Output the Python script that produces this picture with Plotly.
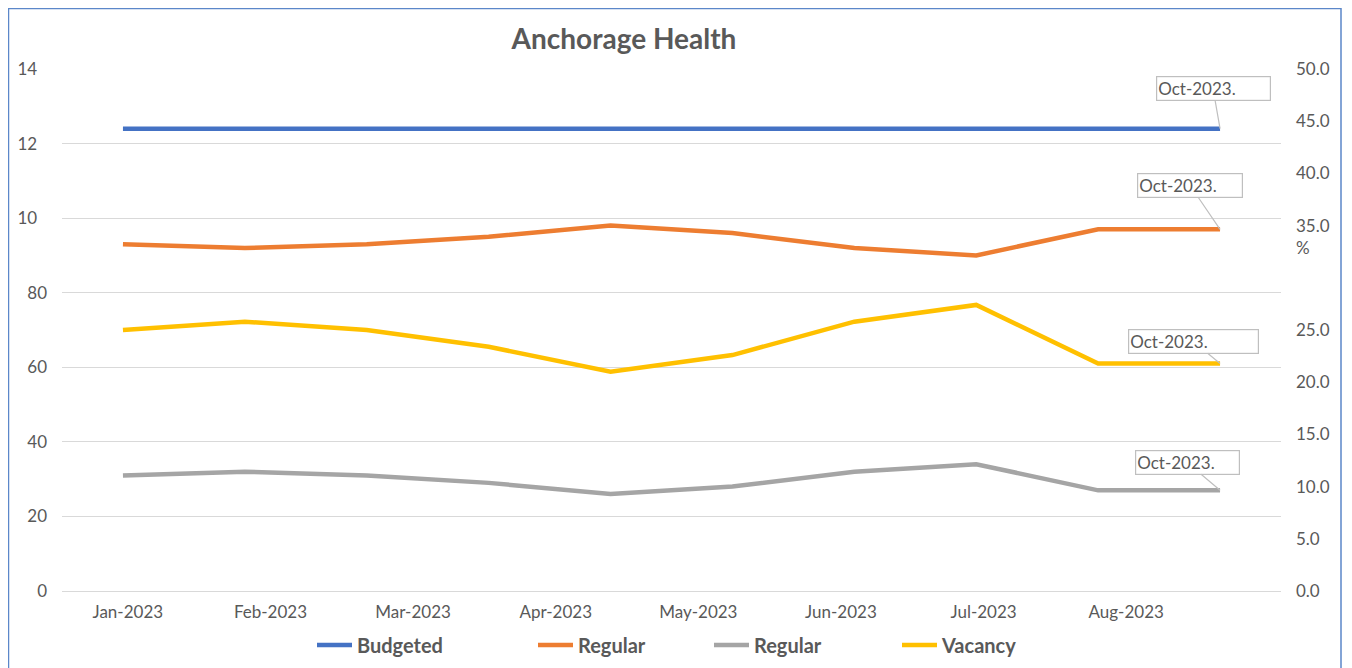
import plotly.graph_objects as go

# ---------------- data ----------------
months = ["Jan-2023", "Feb-2023", "Mar-2023", "Apr-2023", "May-2023",
          "Jun-2023", "Jul-2023", "Aug-2023", "Sep-2023", "Oct-2023"]
x_tick_labels = ["Jan-2023", "Feb-2023", "Mar-2023", "Apr-2023",
                 "May-2023", "Jun-2023", "Jul-2023", "Aug-2023"]

budgeted = [124, 124, 124, 124, 124, 124, 124, 124, 124, 124]
regular = [93, 92, 93, 95, 98, 96, 92, 90, 97, 97]
regular_gap = [31, 32, 31, 29, 26, 28, 32, 34, 27, 27]
vacancy_pct = [25.0, 25.8, 25.0, 23.4, 21.0, 22.6, 25.8, 27.4, 21.8, 21.8]

series_names = ["Budgeted", "Regular", "Regular", "Vacancy"]

left_ticks = [0, 20, 40, 60, 80, 100, 120, 140]
left_tick_labels = ["0", "20", "40", "60", "80", "10", "12", "14"]
right_ticks = [0, 5, 10, 15, 20, 25, 30, 35, 40, 45, 50]
right_tick_labels = ["0.0", "5.0", "10.0", "15.0", "20.0", "25.0", "",
                     "35.0", "40.0", "45.0", "50.0"]
callout_text = "Oct-2023."
title_text = "Anchorage Health"

# ---------------- styles ----------------
TXT = "#595959"
GRID = "#D9D9D9"
FONT = "Lato"
colors = ["#4472C4", "#ED7D31", "#A5A5A5", "#FFC000"]

OFF = 8                      # page body margin offset
W, H = 1352 - OFF, 668 - OFF
# plot area in page pixels: x 62..1281, y 69..591
ML, MT = 62 - OFF, 69 - OFF
MR = W - (1281 - OFF)
MB = H - (591 - OFF)
PW = W - ML - MR
PH = H - MT - MB

def px_x(page_x):
    return (page_x - OFF - ML) / PW

def px_y(page_y):
    return (MT + PH - (page_y - OFF)) / PH

xs = list(range(len(months)))
label_step = 1.17
label_start = 0.04
tickvals_x = [label_start + i * label_step for i in range(len(x_tick_labels))]

# left tick labels appear clipped (e.g. "14" for 140) -> pad invisibly
left_ticktext = []
for v, lbl in zip(left_ticks, left_tick_labels):
    full = str(v)
    if len(full) > len(lbl):
        left_ticktext.append(lbl + "<span style='color:white'>" + full[len(lbl):] + "</span>")
    else:
        left_ticktext.append(lbl)

fig = go.Figure()
series = [(budgeted, "y"), (regular, "y"), (regular_gap, "y"), (vacancy_pct, "y2")]
legend_keys = ["legend", "legend2", "legend3", "legend4"]
for i, ((vals, yax), name) in enumerate(zip(series, series_names)):
    fig.add_trace(go.Scatter(
        x=xs, y=vals, name=name, mode="lines", yaxis=yax,
        line=dict(color=colors[i], width=4.5),
        legend=legend_keys[i],
        customdata=months, hovertemplate="%{customdata}: %{y}<extra>" + name + "</extra>",
    ))

# callouts (pixel offsets of the label box relative to the point)
callout_offsets = [(-7, -40, 111), (-30, -44, 102), (-33, -28, 101), (-27, -22, 127)]
annotations = []
for i, ((vals, yax), (ax, ay, bw)) in enumerate(zip(series, callout_offsets)):
    annotations.append(dict(
        x=xs[-1], y=vals[-1], xref="x", yref=yax,
        text=callout_text, showarrow=True, arrowhead=0, arrowwidth=1.2,
        arrowcolor="#BFBFBF", ax=ax, ay=ay, width=bw, align="left",
        bordercolor="#BFBFBF", borderwidth=1.2, borderpad=1, bgcolor="white",
        font=dict(family=FONT, size=17, color=TXT),
    ))
# "%" under the 35.0 label of the right axis
annotations.append(dict(
    x=1, xref="paper", xanchor="left", xshift=13, y=35, yref="y2", yshift=-22,
    text="%", showarrow=False, font=dict(family=FONT, size=17, color=TXT),
))

legend_sym_x = [317, 538, 714, 902]
legend_y = 645
layout_legends = {}
for key, sx in zip(legend_keys, legend_sym_x):
    layout_legends[key] = dict(
        x=px_x(sx - 5), xanchor="left",
        y=px_y(legend_y), yanchor="middle",
        orientation="h", bgcolor="rgba(0,0,0,0)", itemwidth=35,
        font=dict(family=FONT, size=20, color=TXT, weight="bold"),
    )

fig.update_layout(
    width=W, height=H,
    margin=dict(l=ML, r=MR, t=MT, b=MB, autoexpand=False),
    paper_bgcolor="white", plot_bgcolor="white",
    font=dict(family=FONT, color=TXT),
    showlegend=True,
    title=dict(text=title_text, x=(624 - OFF) / W, xanchor="center", xref="container",
               y=1 - (29 - OFF) / H, yanchor="top", yref="container",
               font=dict(family=FONT, size=28, color=TXT, weight="bold")),
    xaxis=dict(range=[-0.5, len(months) - 0.5], showgrid=False, zeroline=False,
               showline=False, ticks="", tickmode="array", tickvals=tickvals_x,
               ticktext=x_tick_labels, ticklabelstandoff=9, automargin=False,
               tickfont=dict(family=FONT, size=17, color=TXT)),
    yaxis=dict(range=[0, 140], tickmode="array", tickvals=left_ticks,
               ticktext=left_ticktext, showgrid=True, gridcolor=GRID, gridwidth=1,
               zeroline=True, zerolinecolor=GRID, zerolinewidth=1, showline=False,
               ticks="", ticklabelstandoff=14, automargin=False,
               tickfont=dict(family=FONT, size=17, color=TXT)),
    yaxis2=dict(range=[0, 50], overlaying="y", side="right", tickmode="array",
                tickvals=right_ticks, ticktext=right_tick_labels, showgrid=False,
                zeroline=False, showline=False, ticks="", ticklabelstandoff=14,
                automargin=False,
                tickfont=dict(family=FONT, size=17, color=TXT)),
    annotations=annotations,
    shapes=[dict(type="rect", xref="paper", yref="paper",
                 x0=px_x(8.5), x1=px_x(1341),
                 y0=px_y(720), y1=px_y(8.5),
                 line=dict(color="#5B87C9", width=1.5), fillcolor="rgba(0,0,0,0)")],
    **layout_legends,
)

fig.write_html("out.html")
